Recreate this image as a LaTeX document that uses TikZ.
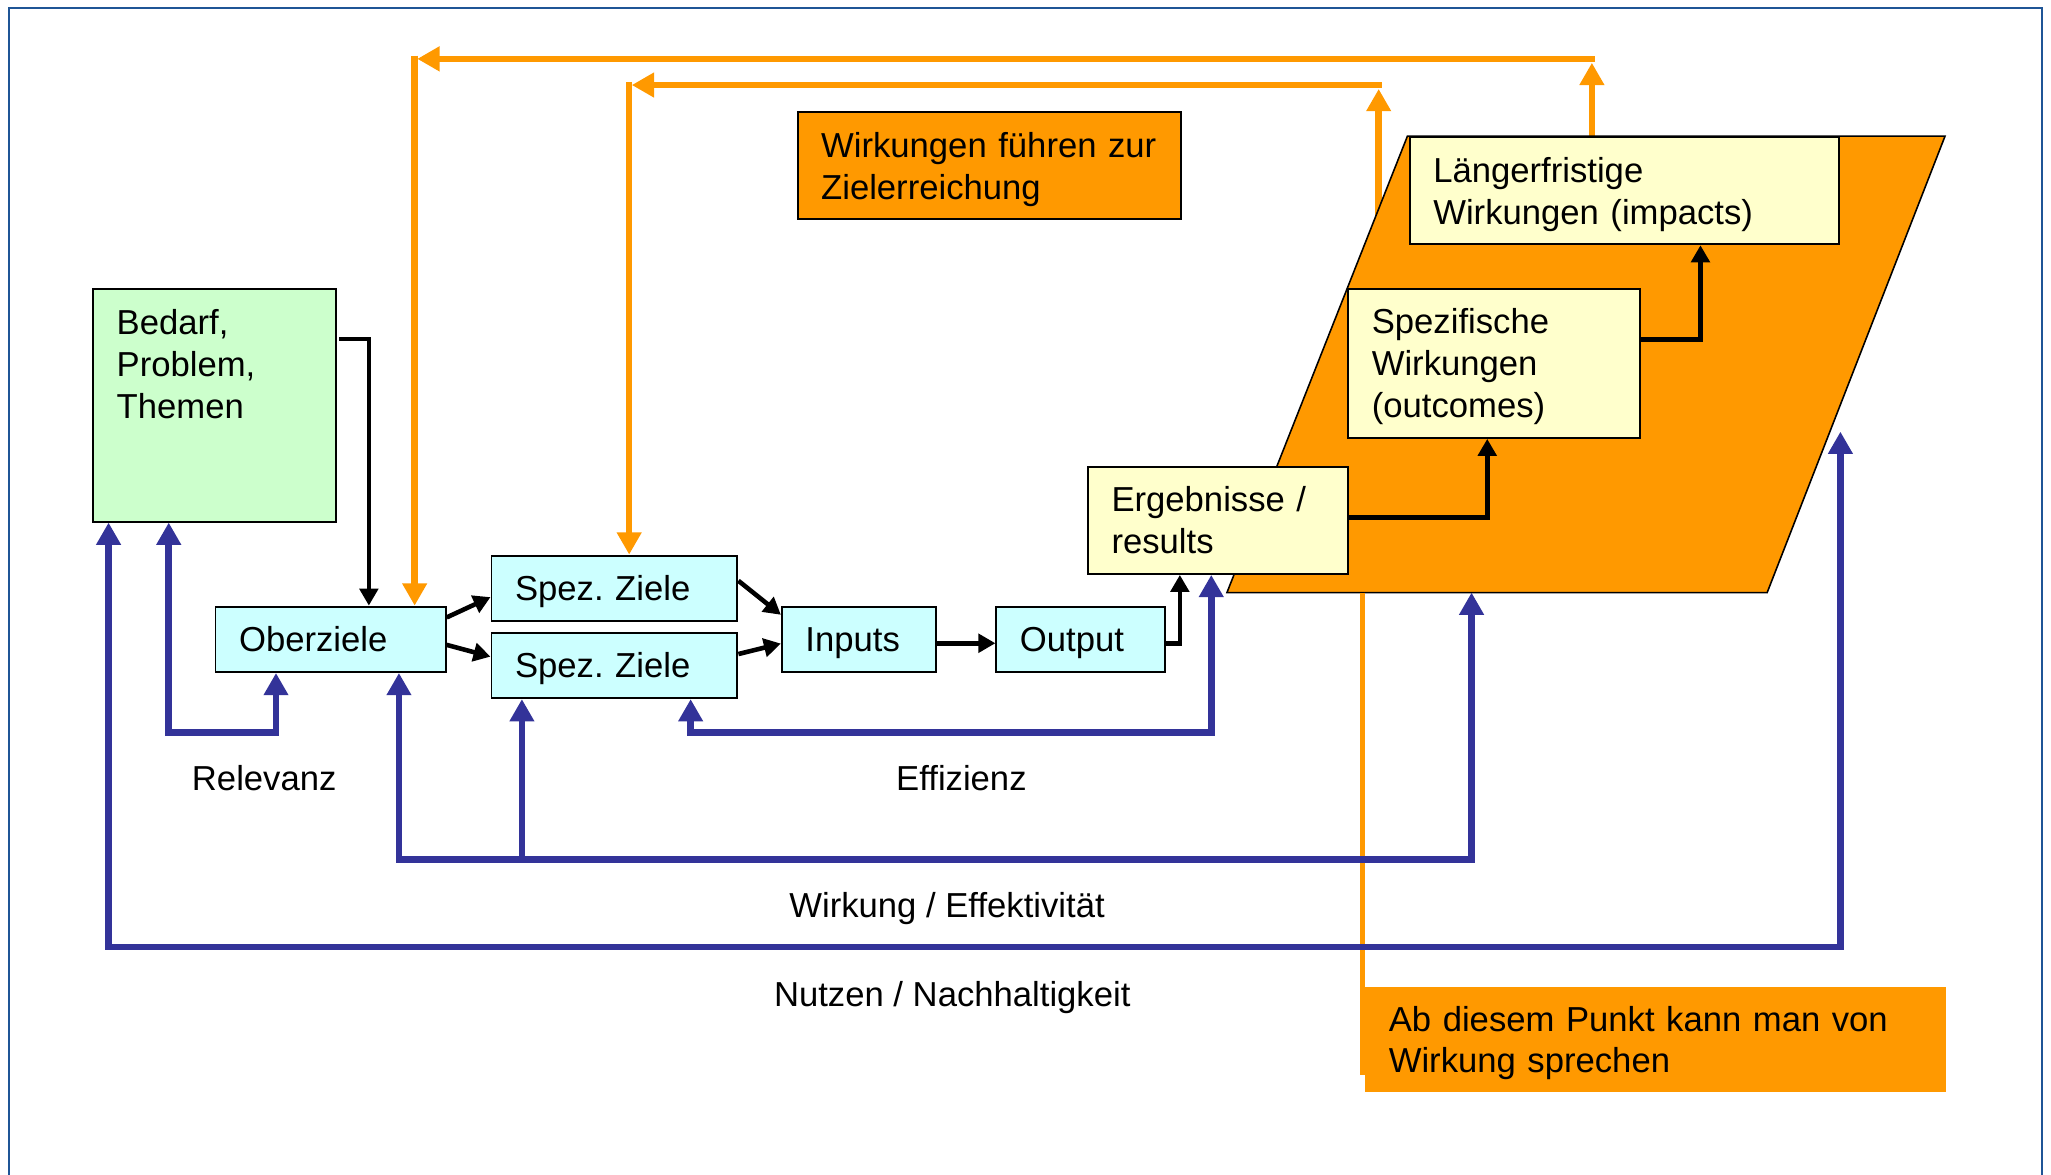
\documentclass[tikz,border=0pt]{standalone}
\usepackage{fontspec}
\setmainfont{Liberation Sans}
\usetikzlibrary{arrows.meta,calc,backgrounds}
\definecolor{orgc}{RGB}{255,153,0}
\definecolor{bluc}{RGB}{51,51,153}
\definecolor{grnc}{RGB}{204,255,204}
\definecolor{cyac}{RGB}{204,255,255}
\definecolor{yelc}{RGB}{255,255,204}
\definecolor{brdc}{RGB}{31,85,150}
\newcommand{\diagfont}{\fontsize{26.5pt}{32pt}\selectfont\frenchspacing}
\begin{document}
\begin{tikzpicture}[x=1pt,y=-1pt,
  diagbox/.style={draw=black,line width=1.5pt,anchor=north west,inner xsep=18pt,inner ysep=0pt,align=left,font=\diagfont,text height=19pt,text depth=0pt},
  twoline/.style={text depth=32pt},
  threeline/.style={text depth=64pt},
  txt/.style={inner sep=0pt,font=\diagfont,text height=19pt,text depth=0pt},
  orgline/.style={draw=orgc,line width=5pt},
  bluline/.style={draw=bluc,line width=5pt},
  blkline/.style={draw=black,line width=3.5pt},
  bigtip/.tip={Triangle[length=17pt,width=18pt]},
  smalltip/.tip={Triangle[length=13pt,width=14pt]}]
\useasboundingbox (0,0) rectangle (1568,898);
% coordinates
\coordinate (oa) at (1217,45);
\coordinate (ob) at (317,45);
\coordinate (ia) at (1054,65);
\coordinate (ib) at (481,65);
\coordinate (ptl) at (1076,104);
\coordinate (ptr) at (1487,104);
\coordinate (pbr) at (1351,453);
\coordinate (pbl) at (938,453);
\coordinate (cl) at (1041.5,822);
% boxes
\node[diagbox,fill=grnc,minimum width=186pt,minimum height=178pt] (bedarf) at (70,220) {};
\node[txt,text height=83pt,anchor=north west,align=left] (bedarftxt) at (89,236.5) {Bedarf,\\Problem,\\Themen};
\node[diagbox,fill=cyac,text width=140pt,minimum width=176pt,minimum height=50pt] (oberziele) at (164,463) {Oberziele};
\node[diagbox,fill=cyac,text width=152pt,minimum width=188pt,minimum height=50pt] (spezA) at (375,424) {Spez. Ziele};
\node[diagbox,fill=cyac,text width=152pt,minimum width=188pt,minimum height=50pt] (spezB) at (375,483) {Spez. Ziele};
\node[diagbox,fill=cyac,text width=82pt,minimum width=118pt,minimum height=50pt] (inputs) at (597,463) {Inputs};
\node[diagbox,fill=cyac,text width=93pt,minimum width=129pt,minimum height=50pt] (output) at (761,463) {Output};
\node[diagbox,twoline,fill=yelc,text width=163pt,minimum width=199pt,minimum height=82pt] (ergeb) at (831,356) {Ergebnisse /\\results};
\node[diagbox,threeline,fill=yelc,text width=187pt,minimum width=223pt,minimum height=114pt] (spezw) at (1030,220) {Spezifische\\Wirkungen\\(outcomes)};
\node[diagbox,twoline,fill=yelc,text width=292pt,minimum width=328pt,minimum height=82pt] (laeng) at (1077,104) {Längerfristige\\Wirkungen (impacts)};
\node[diagbox,twoline,fill=orgc,text width=257pt,minimum width=293pt,minimum height=82pt] (wfz) at (609,85) {\mbox{Wirkungen führen zur}\\Zielerreichung};
\node[diagbox,twoline,draw=none,fill=orgc,text width=408pt,minimum width=444pt,minimum height=80pt] (abdiesem) at (1043,754) {Ab diesem Punkt kann man von\\Wirkung sprechen};
% labels
\node[txt,anchor=base] (relevanz) at (202,604.5) {Relevanz};
\node[txt,anchor=base] (effizienz) at (735,604.5) {Effizienz};
\node[txt,anchor=base] (wirkung) at (724,701.5) {Wirkung / Effektivität};
\node[txt,anchor=base] (nutzen) at (728,769.5) {Nutzen / Nachhaltigkeit};
% background: frame, orange feedback lines, parallelogram
\begin{scope}[on background layer]
  \fill[white] (0,0) rectangle (1568,898);
  \draw[brdc,line width=2pt] (7,910) -- (7,6) -- (1561,6) -- (1561,910);
  \draw[orgline,-bigtip] ($(laeng.north west)+(140,0)$) -- ($(oa)+(0,3)$);
  \draw[orgline,-bigtip] ($(oa)+(2.5,0)$) -- ($(ob)+(2,0)$);
  \draw[orgline,-bigtip] ($(ob)+(0,-2.5)$) -- (ob |- oberziele.north);
  \draw[orgline,-bigtip] (ia |- spezw.north) -- ($(ia)+(0,3)$);
  \draw[orgline,-bigtip] ($(ia)+(2.5,0)$) -- ($(ib)+(2,0)$);
  \draw[orgline,-bigtip] ($(ib)+(0,-2.5)$) -- (ib |- spezA.north);
  \draw[fill=orgc,draw=black,line width=1.2pt] (ptl) -- (ptr) -- (pbr) -- (pbl) -- cycle;
  \draw[draw=orgc,line width=3.5pt] (cl |- pbl) -- (cl);
\end{scope}
% black flow arrows
\draw[blkline,-smalltip] ($(bedarf.north east)+(2,39)$) -| ($(oberziele.north west)+(118,0)$);
\draw[blkline,-smalltip] ($(oberziele.north east)+(0,9)$) -- ($(spezA.south west)+(0,-19)$);
\draw[blkline,-smalltip] ($(oberziele.north east)+(0,30)$) -- ($(spezB.north west)+(0,19)$);
\draw[blkline,-smalltip] ($(spezA.north east)+(0,20)$) -- ($(inputs.north west)+(0,7)$);
\draw[blkline,-smalltip] ($(spezB.north east)+(0,17)$) -- ($(inputs.north west)+(0,29)$);
\draw[blkline,-smalltip] ($(inputs.east)+(0,3)$) -- ($(output.west)+(0,3)$);
\draw[blkline,-smalltip] ($(output.east)+(0,3)$) -| ($(ergeb.south west)+(71,0)$);
\draw[blkline,-smalltip] ($(ergeb.east)+(0,-2)$) -| ($(spezw.south west)+(107,0)$);
\draw[blkline,-smalltip] ($(spezw.east)+(0,-18)$) -| ($(laeng.south west)+(223,0)$);
% blue evaluation arrows
\coordinate (rl1) at (129,560); \coordinate (rl2) at (211,560);
\draw[bluline,bigtip-bigtip] (rl1 |- bedarf.south) -- (rl1) -- (rl2) -- (rl2 |- oberziele.south);
\coordinate (ef1) at (528,560); \coordinate (ef2) at (926,560);
\draw[bluline,bigtip-bigtip] (ef1 |- spezB.south) -- (ef1) -- (ef2) -- (ef2 |- ergeb.south);
\coordinate (wk1) at (305,657); \coordinate (wk2) at (1125,657); \coordinate (wk3) at (399,657);
\draw[bluline,bigtip-bigtip] (wk1 |- oberziele.south) -- (wk1) -- (wk2) -- (wk2 |- pbl);
\draw[bluline,-bigtip] (wk3) -- (wk3 |- spezB.south);
\coordinate (nu1) at (83,724); \coordinate (nu2) at (1407,724); \coordinate (nutop) at (1407,330);
\draw[bluline,bigtip-bigtip] (nu1 |- bedarf.south) -- (nu1) -- (nu2) -- (nutop);
\end{tikzpicture}
\end{document}
